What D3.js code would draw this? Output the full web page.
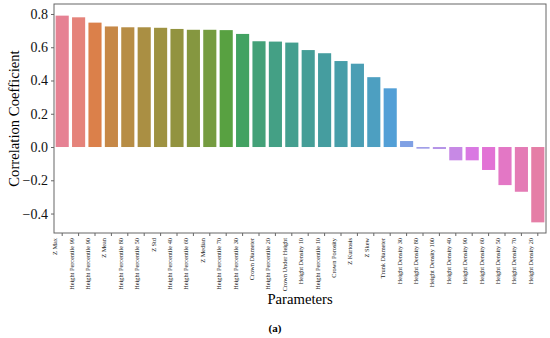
<!DOCTYPE html>
<html>
<head>
<meta charset="utf-8">
<script src="https://cdn.jsdelivr.net/npm/d3@7"></script>
<style>
  body { margin: 0; background: #fff; }
  svg { display: block; font-family: "Liberation Serif", "DejaVu Serif", serif; }
</style>
</head>
<body>
<svg id="chart" width="550" height="338"></svg>
<script>
// parameters, sorted by correlation
const params = [
  "Z Max", "Height Percentile 99", "Height Percentile 90", "Z Mean", "Height Percentile 80",
  "Height Percentile 50", "Z Std", "Height Percentile 40", "Height Percentile 60", "Z Median",
  "Height Percentile 70", "Height Percentile 30", "Crown Diameter", "Height Percentile 20",
  "Crown Under Height", "Height Density 10", "Height Percentile 10", "Crown Porosity",
  "Z Kurtosis", "Z Skew", "Trunk Diameter", "Height Density 30", "Height Density 80",
  "Height Density 100", "Height Density 40", "Height Density 90", "Height Density 60",
  "Height Density 50", "Height Density 70", "Height Density 20"
];
const corr = [
  0.79, 0.78, 0.748, 0.725, 0.72,
  0.72, 0.717, 0.71, 0.705, 0.705,
  0.703, 0.68, 0.636, 0.634, 0.628,
  0.583, 0.564, 0.517, 0.501, 0.42,
  0.353, 0.036, -0.01, -0.012, -0.08,
  -0.08, -0.138, -0.229, -0.269, -0.453
];
const yTicks = [-0.4, -0.2, 0.0, 0.2, 0.4, 0.6, 0.8];

// husl palette (as seaborn does it), then desaturated by 0.75
const M = [[3.240969941904521, -1.537383177570093, -0.498610760293],
           [-0.96924363628087, 1.87596750150772, 0.041555057407175],
           [0.055630079696993, -0.20397695888897, 1.056971514242878]];
const refU = 0.19783000664283, refV = 0.46831999493879;
const kappa = 903.2962962, eps = 0.0088564516;

function bounds(L) {
  const out = [];
  const sub1 = Math.pow(L + 16, 3) / 1560896;
  const sub2 = sub1 > eps ? sub1 : L / kappa;
  for (const [m1, m2, m3] of M) {
    for (const t of [0, 1]) {
      const top1 = (284517 * m1 - 94839 * m3) * sub2;
      const top2 = (838422 * m3 + 769860 * m2 + 731718 * m1) * L * sub2 - 769860 * t * L;
      const bottom = (632260 * m3 - 126452 * m2) * sub2 + 126452 * t;
      out.push([top1 / bottom, top2 / bottom]);
    }
  }
  return out;
}
function maxChroma(L, H) {
  const hr = H / 360 * 2 * Math.PI;
  let min = Infinity;
  for (const [slope, inter] of bounds(L)) {
    const len = inter / (Math.sin(hr) - slope * Math.cos(hr));
    if (len >= 0) min = Math.min(min, len);
  }
  return min;
}
function huslToRgb(H, S, L) {
  const C = maxChroma(L, H) / 100 * S;
  const hr = H / 360 * 2 * Math.PI;
  const U = Math.cos(hr) * C, V = Math.sin(hr) * C;
  const varU = U / (13 * L) + refU, varV = V / (13 * L) + refV;
  const Y = L <= 8 ? L / kappa : Math.pow((L + 16) / 116, 3);
  const X = 0 - (9 * Y * varU) / ((varU - 4) * varV - varU * varV);
  const Z = (9 * Y - 15 * varV * Y - varV * X) / (3 * varV);
  const lin = M.map(r => r[0] * X + r[1] * Y + r[2] * Z);
  const rgb = lin.map(c => c <= 0.0031308 ? 12.92 * c : 1.055 * Math.pow(c, 1 / 2.4) - 0.055)
                 .map(c => Math.max(0, Math.min(1, c)) * 255);
  const hsl = d3.hsl(d3.rgb(rgb[0], rgb[1], rgb[2]));
  hsl.s *= 0.75;
  return hsl.formatHex();
}
const n = params.length;
const colors = d3.range(n).map(i => {
  const h = ((i / n + 0.01) % 1) * 359;
  return huslToRgb(h, 0.9 * 99, 0.65 * 99);
});

const svg = d3.select("#chart");
const margin = {left: 54, right: 4, top: 4, bottom: 105};
const W = 550, H = 338;

const x = d3.scaleBand().domain(params)
  .range([margin.left, W - margin.right])
  .paddingInner(0.2).paddingOuter(0.1);
const y = d3.scaleLinear().domain([-0.517, 0.86]).range([H - margin.bottom, margin.top]);

svg.append("g")
  .selectAll("rect")
  .data(params)
  .join("rect")
    .attr("x", d => x(d))
    .attr("width", x.bandwidth())
    .attr("y", (d, i) => y(Math.max(0, corr[i])))
    .attr("height", (d, i) => Math.max(1, Math.abs(y(corr[i]) - y(0))))
    .attr("fill", (d, i) => colors[i]);

// frame
svg.append("rect")
  .attr("x", margin.left).attr("y", margin.top)
  .attr("width", W - margin.right - margin.left)
  .attr("height", H - margin.bottom - margin.top)
  .attr("fill", "none").attr("stroke", "#666").attr("stroke-width", 1);

const fmt = d => d3.format(".1f")(d).replace("-", "\u2212");
const yAxis = svg.append("g")
  .attr("transform", `translate(${margin.left},0)`)
  .call(d3.axisLeft(y).tickValues(yTicks).tickFormat(fmt).tickSize(3).tickPadding(3));
yAxis.select(".domain").remove();
yAxis.selectAll("line").attr("stroke", "#666");
yAxis.selectAll("text").attr("font-size", 14).attr("fill", "#111")
  .attr("font-family", "Liberation Serif");

const xAxis = svg.append("g")
  .attr("transform", `translate(0,${H - margin.bottom})`)
  .call(d3.axisBottom(x).tickSize(3).tickPadding(2));
xAxis.select(".domain").remove();
xAxis.selectAll("line").attr("stroke", "#666");
xAxis.selectAll("text")
  .attr("font-size", 6.3).attr("fill", "#222")
  .attr("font-family", "Liberation Serif")
  .attr("text-anchor", "end")
  .attr("dy", "0.32em")
  .attr("transform", "rotate(-90) translate(-5,-7)")
  .attr("x", 0).attr("y", 0);

svg.append("text")
  .attr("transform", `translate(14,${(margin.top + H - margin.bottom) / 2}) rotate(-90)`)
  .attr("text-anchor", "middle")
  .attr("dy", "0.35em")
  .attr("font-size", 14.7)
  .text("Correlation Coefficient");

svg.append("text")
  .attr("x", (margin.left + W - margin.right) / 2)
  .attr("y", 304)
  .attr("text-anchor", "middle")
  .attr("font-size", 14.7)
  .text("Parameters");

svg.append("text")
  .attr("x", 275)
  .attr("y", 332)
  .attr("text-anchor", "middle")
  .attr("font-size", 11)
  .attr("font-weight", "bold")
  .text("(a)");
</script>
</body>
</html>
